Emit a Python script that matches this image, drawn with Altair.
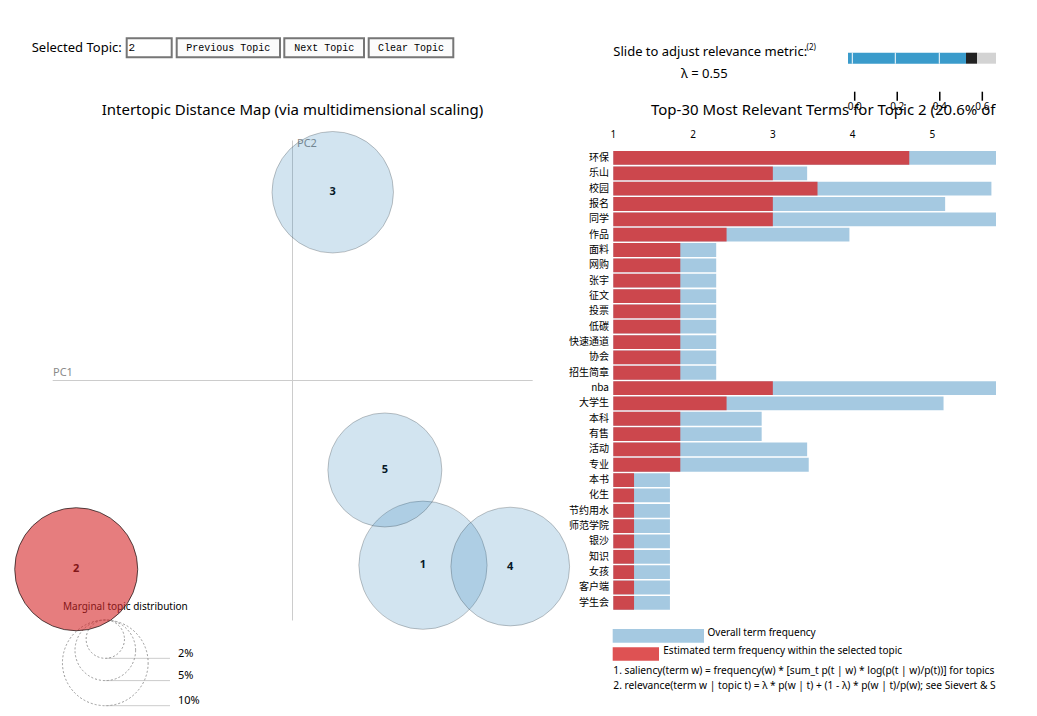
import math
import altair as alt
import pandas as pd

# ---------------- data ----------------
topic_ids = [1, 2, 3, 4, 5]
topic_pc1 = [0.1357, -0.2255, 0.0417, 0.2266, 0.0960]
topic_pc2 = [-0.1924, -0.1966, 0.1961, -0.1938, -0.0932]
topic_share = [0.224, 0.206, 0.201, 0.192, 0.177]
selected_topic = 2

marginal_pcts = [0.02, 0.05, 0.10]
marginal_labels = ["2%", "5%", "10%"]

terms = ["环保", "乐山", "校园", "报名", "同学", "作品", "面料", "网购", "张宇", "征文",
         "投票", "低碳", "快速通道", "协会", "招生简章", "nba", "大学生", "本科", "有售", "活动",
         "专业", "本书", "化生", "节约用水", "师范学院", "银沙", "知识", "女孩", "客户端", "学生会"]
term_total = [6.5, 3.43, 5.74, 5.16, 7.08, 3.96, 2.29, 2.29, 2.29, 2.29,
              2.29, 2.29, 2.29, 2.29, 2.29, 6.8, 5.14, 2.86, 2.86, 3.43,
              3.45, 1.71, 1.71, 1.71, 1.71, 1.71, 1.71, 1.71, 1.71, 1.71]
term_topic = [4.71, 3.0, 3.56, 3.0, 3.0, 2.42, 1.84, 1.84, 1.84, 1.84,
              1.84, 1.84, 1.84, 1.84, 1.84, 3.0, 2.42, 1.84, 1.84, 1.84,
              1.84, 1.26, 1.26, 1.26, 1.26, 1.26, 1.26, 1.26, 1.26, 1.26]
bar_ticks = [1, 2, 3, 4, 5]
lambda_ticks = [0.0, 0.2, 0.4, 0.6, 0.8, 1.0]
lambda_value = 0.55

# ---------------- styling / helpers ----------------
FONT = "Noto Sans, Noto Sans CJK SC, sans-serif"
MONO = "Liberation Mono, DejaVu Sans Mono, monospace"
CJK = "Noto Sans CJK SC, Noto Sans, sans-serif"
OFF = 8  # page margin
ONE = alt.Data(values=[{"k": 0}])


def P(v):
    return v - OFF


def txt(s, x, y, size=13, color="#000", align="left", font=FONT, weight="normal"):
    return alt.Chart(ONE).mark_text(
        text=s, align=align, baseline="middle", fontSize=size, color=color,
        font=font, fontWeight=weight
    ).encode(x=alt.value(P(x)), y=alt.value(P(y)))


def box(x1, x2, y1, y2, fill, stroke=None, sw=0, opacity=1.0):
    kw = dict(fill=fill, opacity=opacity)
    if stroke:
        kw.update(stroke=stroke, strokeWidth=sw)
    return alt.Chart(ONE).mark_rect(**kw).encode(
        x=alt.value(P(x1)), x2=alt.value(P(x2)), y=alt.value(P(y1)), y2=alt.value(P(y2)))


def line(x1, x2, y1, y2, color="#ccc", sw=1):
    return alt.Chart(ONE).mark_rule(color=color, strokeWidth=sw).encode(
        x=alt.value(P(x1)), x2=alt.value(P(x2)), y=alt.value(P(y1)), y2=alt.value(P(y2)))


# scales (pixel ranges in chart coordinates)
R_MAX = 135.5  # radius (px) of a circle for a 100% share
MDS_X = alt.Scale(domain=[-0.25, 0.25], range=[P(52.7), P(532.7)], nice=False, zero=False)
MDS_Y = alt.Scale(domain=[-0.25, 0.25], range=[P(620.5), P(140.5)], nice=False, zero=False)
# Vega symbol size = area of bounding square -> (2r)^2
SIZE = alt.Scale(type="linear", domain=[0, 1], range=[0, (2 * R_MAX) ** 2])
BAR_X = alt.Scale(domain=[1, 7.08], range=[P(613.3), P(613.3 + 485)], nice=False, zero=False)
BAR_Y = alt.Scale(domain=terms, range=[P(150.3), P(610.5)], paddingInner=0.1, paddingOuter=0.05)
LAM_X = alt.Scale(domain=[0, 1], range=[P(854.7), P(854.7 + 212.7)], nice=False, zero=False)

topics = pd.DataFrame({"topic": topic_ids, "pc1": topic_pc1, "pc2": topic_pc2, "share": topic_share})
bars = pd.DataFrame({"term": terms, "total": term_total, "freq": term_topic})
marg = pd.DataFrame({"p": marginal_pcts, "label": marginal_labels})
bticks = pd.DataFrame({"v": bar_ticks, "s": [str(t) for t in bar_ticks]})
lticks = pd.DataFrame({"v": lambda_ticks, "s": [f"{t:.1f}" for t in lambda_ticks]})

layers = []

# ---------- header controls ----------
layers.append(txt("Selected Topic:", 31.7, 47.5, 13))
layers.append(box(126.7, 171.7, 38.3, 57.3, "#ffffff", "#767676", 2))
layers.append(txt(str(selected_topic), 128.5, 47.5, 11, font=MONO))
for (x1, x2, lab) in [(176.7, 280, "Previous Topic"), (284.3, 364, "Next Topic"), (368.7, 453.3, "Clear Topic")]:
    layers.append(box(x1, x2, 38.3, 57.3, "#fbfbfb", "#767676", 2))
    layers.append(txt(lab, (x1 + x2) / 2, 47.8, 10, align="center", font=MONO))

# ---------- MDS panel ----------
layers.append(txt("Intertopic Distance Map (via multidimensional scaling)", 292.5, 110, 15, align="center"))
layers.append(line(52.7, 532.7, 380.5, 380.5))
layers.append(line(292.5, 292.5, 140.5, 620.5))
layers.append(txt("PC1", 53, 373, 11, color="#8a8a8a"))
layers.append(txt("PC2", 297, 144, 11, color="#8a8a8a"))

# marginal topic distribution legend
TOP = P(620)
marg_base = alt.Chart(marg).transform_calculate(
    r=f"{R_MAX} * sqrt(datum.p)"
).transform_calculate(
    cy=f"{TOP} + datum.r", yb=f"{TOP} + 2 * datum.r", yl=f"{TOP} + 2 * datum.r - 4.5"
)
layers.append(txt("Marginal topic distribution", 63, 607, 10))
layers.append(marg_base.mark_rule(color="#ccc", strokeWidth=1).encode(
    x=alt.value(P(105.3)), x2=alt.value(P(170)), y=alt.Y("yb:Q", scale=None, axis=None)))
layers.append(marg_base.mark_point(shape="circle", filled=False, stroke="#999", strokeWidth=1,
                                   strokeDash=[2, 2], opacity=1).encode(
    x=alt.value(P(105.3)), y=alt.Y("cy:Q", scale=None, axis=None),
    size=alt.Size("p:Q", scale=SIZE, legend=None)))
layers.append(marg_base.mark_text(align="left", baseline="middle", fontSize=11, font=FONT, color="#000").encode(
    x=alt.value(P(178)), y=alt.Y("yl:Q", scale=None, axis=None), text="label:N"))

# topic labels (under circles) and circles
layers.append(alt.Chart(topics).mark_text(fontSize=11, fontWeight="bold", font=FONT, color="#000",
                                          baseline="middle", align="center").encode(
    x=alt.X("pc1:Q", scale=MDS_X, axis=None), y=alt.Y("pc2:Q", scale=MDS_Y, axis=None),
    text="topic:N"))
is_sel = f"datum.topic == {selected_topic}"
layers.append(alt.Chart(topics).mark_circle(stroke="#000", strokeWidth=1, opacity=1).encode(
    x=alt.X("pc1:Q", scale=MDS_X, axis=None), y=alt.Y("pc2:Q", scale=MDS_Y, axis=None),
    size=alt.Size("share:Q", scale=SIZE, legend=None),
    fill=alt.condition(is_sel, alt.value("#d62728"), alt.value("#1f77b4")),
    fillOpacity=alt.condition(is_sel, alt.value(0.6), alt.value(0.2)),
    strokeOpacity=alt.condition(is_sel, alt.value(0.65), alt.value(0.22)),
))

# ---------- relevance slider ----------
layers.append(txt("Slide to adjust relevance metric:", 613.3, 51.7, 13))
layers.append(txt("(2)", 806.5, 48, 8))
layers.append(txt(f"λ = {lambda_value}", 681, 73.7, 13))
layers.append(box(848, 966, 52.7, 63.7, "#3a9bcb"))
layers.append(box(966, 977, 52.7, 63.7, "#222222"))
layers.append(box(977, 996, 52.7, 63.7, "#d3d3d3"))
for xs in [852.3, 895.3, 939.3]:
    layers.append(line(xs, xs, 52.7, 63.7, color="#ffffff", sw=1))
layers.append(alt.Chart(lticks).mark_rule(color="#000", strokeWidth=1.5).encode(
    x=alt.X("v:Q", scale=LAM_X, axis=None), y=alt.value(P(91.7)), y2=alt.value(P(100.7))))

# ---------- bar chart ----------
layers.append(txt("Top-30 Most Relevant Terms for Topic 2 (20.6% of tokens)", 651, 109.5, 15))
layers.append(alt.Chart(lticks).mark_text(fontSize=10, font=FONT, color="#000", align="center",
                                          baseline="middle").encode(
    x=alt.X("v:Q", scale=LAM_X, axis=None), y=alt.value(P(106.5)), text="s:N"))
layers.append(alt.Chart(bticks).mark_text(fontSize=10, font=FONT, color="#000", align="center",
                                          baseline="middle").encode(
    x=alt.X("v:Q", scale=BAR_X, axis=None), y=alt.value(P(135.3)), text="s:N"))
layers.append(alt.Chart(bars).mark_bar(color="#1f77b4", opacity=0.4).encode(
    x=alt.X("total:Q", scale=BAR_X, axis=None), x2=alt.datum(1),
    y=alt.Y("term:N", scale=BAR_Y, axis=None)))
layers.append(alt.Chart(bars).mark_bar(color="#d62728", opacity=0.8).encode(
    x=alt.X("freq:Q", scale=BAR_X, axis=None), x2=alt.datum(1),
    y=alt.Y("term:N", scale=BAR_Y, axis=None)))
layers.append(alt.Chart(bars).mark_text(fontSize=10, font=CJK, color="#000", align="right",
                                        baseline="middle").encode(
    x=alt.value(P(609)), y=alt.Y("term:N", scale=BAR_Y, axis=None), text="term:N"))

# ---------- bar legend & footnotes ----------
layers.append(box(612.7, 704, 629, 642.7, "#1f77b4", opacity=0.4))
layers.append(txt("Overall term frequency", 707.5, 632.7, 10))
layers.append(box(612.7, 659, 647.3, 660.7, "#d62728", opacity=0.8))
layers.append(txt("Estimated term frequency within the selected topic", 663.3, 651, 10))
layers.append(txt("1. saliency(term w) = frequency(w) * [sum_t p(t | w) * log(p(t | w)/p(t))] for topics t; see Chuang et. al (2012)", 613.3, 671, 10.2))
layers.append(txt("2. relevance(term w | topic t) = λ * p(w | t) + (1 - λ) * p(w | t)/p(w); see Sievert & Shirley (2014)", 613.3, 685.5, 10.2))

chart = alt.layer(*layers).resolve_scale(
    x="independent", y="independent", size="independent"
).properties(
    width=988, height=700, padding=0, background="white",
    autosize=alt.AutoSizeParams(type="none"),
).configure_view(stroke=None)

chart.save("out.html", embed_options={"renderer": "svg", "actions": False})
